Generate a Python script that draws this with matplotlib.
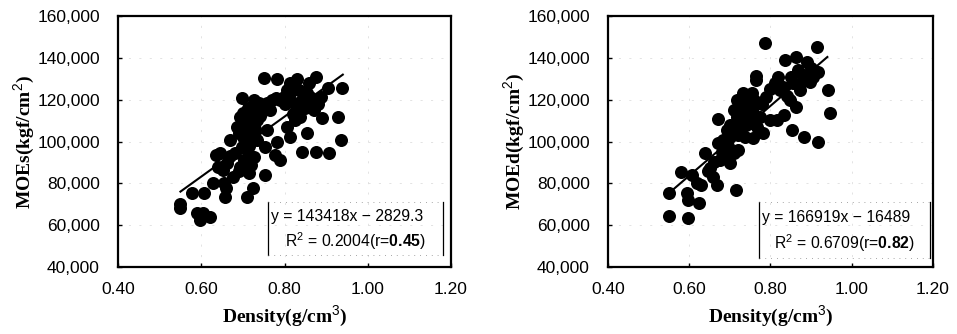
import numpy as np
import matplotlib
matplotlib.use("Agg")
import matplotlib.pyplot as plt
from matplotlib.ticker import FuncFormatter

plt.rcParams['font.family'] = ['Liberation Sans', 'DejaVu Sans']
plt.rcParams['mathtext.fontset'] = 'custom'
plt.rcParams['mathtext.rm'] = 'Liberation Sans'
plt.rcParams['mathtext.bf'] = 'Liberation Sans:bold'

# left panel: static MOE vs density
dens_s = [0.549, 0.549, 0.578, 0.607, 0.590, 0.598, 0.605, 0.622, 0.628, 0.636,
          0.646, 0.658, 0.660, 0.653, 0.670, 0.662, 0.699, 0.687, 0.677, 0.694,
          0.711, 0.725, 0.711, 0.701, 0.713, 0.725, 0.735, 0.750, 0.781, 0.754,
          0.758, 0.766, 0.754, 0.778, 0.783, 0.790, 0.807, 0.814, 0.829, 0.822,
          0.814, 0.826, 0.838, 0.841, 0.853, 0.858, 0.875, 0.875, 0.862, 0.870,
          0.891, 0.887, 0.906, 0.904, 0.928, 0.935, 0.937, 0.846, 0.831,
          0.694, 0.690, 0.706, 0.698, 0.718, 0.714, 0.726, 0.738, 0.742, 0.734,
          0.750, 0.758, 0.770, 0.790, 0.798, 0.807, 0.814, 0.834, 0.855, 0.843,
          0.682, 0.702, 0.714, 0.726,
          0.705, 0.720, 0.730, 0.715, 0.740, 0.700, 0.760, 0.780, 0.800, 0.820,
          0.850, 0.860, 0.880, 0.670, 0.690, 0.720, 0.640, 0.655]
moe_s = [68200, 70000, 75400, 75400, 65800, 62500, 65800, 63900, 80200, 93600,
         94500, 73500, 77800, 86400, 100700, 89700, 120800, 107000, 83000, 87800,
         73500, 77800, 96000, 113600, 116000, 107000, 100700, 130300, 129800, 84000,
         105500, 115100, 97400, 93600, 99800, 91200, 107000, 102200, 129800, 118400,
         123200, 110300, 111700, 95000, 104100, 128000, 130800, 95000, 121300, 115100,
         111200, 121300, 94500, 125600, 111700, 100700, 125600, 118400, 115100,
         111900, 103900, 100700, 97500, 103900, 110300, 119800, 118300, 113500, 110300,
         115100, 118300, 119800, 119800, 121400, 124600, 127800, 124600, 123000, 119800,
         94400, 91200, 84800, 92700,
         108000, 114000, 106000, 98000, 112000, 102000, 116000, 121000, 118000, 113000,
         116000, 119000, 118000, 93000, 86000, 89000, 88000, 80000]

# right panel: dynamic MOE vs density
dens_d = [0.551, 0.551, 0.579, 0.594, 0.598, 0.598, 0.608, 0.625, 0.628, 0.639,
          0.651, 0.659, 0.668, 0.672, 0.672, 0.684, 0.700, 0.715, 0.709, 0.713,
          0.721, 0.729, 0.741, 0.750, 0.754, 0.758, 0.764, 0.764, 0.782, 0.786,
          0.789, 0.799, 0.815, 0.819, 0.823, 0.833, 0.836, 0.852, 0.864, 0.868,
          0.864, 0.882, 0.889, 0.897, 0.915, 0.918, 0.918, 0.942, 0.946, 0.856,
          0.848, 0.873, 0.905,
          0.684, 0.709, 0.717, 0.725, 0.733, 0.741, 0.750, 0.758, 0.766, 0.774,
          0.692, 0.700, 0.709, 0.725, 0.737, 0.745, 0.676, 0.692, 0.717, 0.733,
          0.750,
          0.660, 0.680, 0.695, 0.700, 0.720, 0.730, 0.740, 0.755, 0.760, 0.780,
          0.800, 0.810, 0.830, 0.840, 0.850, 0.870, 0.880, 0.900, 0.645, 0.620]
moe_d = [75400, 64400, 85400, 75400, 72000, 63400, 84000, 70600, 79200, 94500,
         87300, 83000, 79200, 110800, 99300, 92600, 89700, 76800, 115100, 104100,
         96000, 121300, 115100, 108900, 123200, 101600, 129400, 131300, 104100, 147100,
         121300, 110300, 110300, 130800, 124600, 112700, 139000, 105500, 140400, 134200,
         116500, 102200, 138000, 128500, 145200, 133200, 99800, 124600, 113600, 128000,
         119800, 124600, 130800,
         100700, 107100, 111900, 116700, 110300, 119800, 118300, 113500, 107100, 111900,
         97500, 102300, 94400, 105500, 102300, 110300, 91200, 105500, 119800, 123000,
         121400,
         90000, 95000, 98000, 108000, 103000, 113000, 108000, 116000, 120000, 118000,
         125000, 128000, 126000, 122000, 131000, 127000, 132000, 135000, 86000, 80000]

fits = [(143418, -2829.3), (166919, -16489)]
eq_txt = ["y = 143418x \u2212 2829.3", "y = 166919x \u2212 16489"]
r2_txt = [r"R$^2$ = 0.2004(r=$\mathbf{0.45}$)", r"R$^2$ = 0.6709(r=$\mathbf{0.82}$)"]
ylabels = ["MOEs(kgf/cm$^2$)", "MOEd(kgf/cm$^2$)"]
boxes = [(0.449, 0.048, 0.527, 0.211), (0.465, 0.036, 0.526, 0.223)]

fig = plt.figure(figsize=(9.57, 3.34), dpi=100)
ax1 = fig.add_axes([0.1233, 0.2006, 0.348, 0.7514])
ax2 = fig.add_axes([0.6353, 0.2006, 0.3396, 0.7514])

serif = {'family': 'Liberation Serif', 'weight': 'bold', 'size': 14}

for i, (ax, xs, ys) in enumerate([(ax1, dens_s, moe_s), (ax2, dens_d, moe_d)]):
    ax.scatter(xs, ys, s=88, color='black', zorder=3, linewidths=0)
    a, b = fits[i]
    xl = np.array([0.55, 0.94])
    ax.plot(xl, a * xl + b, color='black', lw=1.5, zorder=4)
    ax.set_xlim(0.4, 1.2)
    ax.set_ylim(40000, 160000)
    ax.set_xticks([0.4, 0.6, 0.8, 1.0, 1.2])
    ax.set_yticks(range(40000, 160001, 20000))
    ax.xaxis.set_major_formatter(FuncFormatter(lambda v, p: f"{v:.2f}"))
    ax.yaxis.set_major_formatter(FuncFormatter(lambda v, p: f"{int(v):,}"))
    ax.tick_params(direction='in', length=3, width=1, labelsize=12.5)
    ax.tick_params(axis='y', pad=13)
    ax.tick_params(axis='x', pad=11)
    for sp in ax.spines.values():
        sp.set_linewidth(1.6)
    ax.grid(True, color='#d8d8d8', lw=0.5, ls=(0, (3, 12)))
    ax.set_axisbelow(True)
    ax.set_xlabel("Density(g/cm$^3$)", fontdict=serif, labelpad=4)
    ax.set_ylabel(ylabels[i], fontdict=serif, labelpad=0)

    bx, by, bw, bh = boxes[i]
    ax.plot([bx, bx], [by, by + bh], transform=ax.transAxes, color='black', lw=0.9, zorder=5)
    ax.plot([bx + bw, bx + bw], [by, by + bh], transform=ax.transAxes, color='black', lw=0.9, zorder=5)
    ax.plot([bx, bx + bw], [by, by], transform=ax.transAxes, color='#888888', lw=0.6, ls=(0, (1, 6)), zorder=5)
    ax.plot([bx, bx + bw], [by + bh, by + bh], transform=ax.transAxes, color='#888888', lw=0.6, ls=(0, (1, 6)), zorder=5)
    ax.text(bx + 0.01, by + bh * 0.73, eq_txt[i], transform=ax.transAxes, fontsize=11.3,
            ha='left', va='center', zorder=6)
    ax.text(bx + bw / 2, by + bh * 0.27, r2_txt[i], transform=ax.transAxes, fontsize=11.3,
            ha='center', va='center', zorder=6)

plt.savefig('out.png', dpi=100)
